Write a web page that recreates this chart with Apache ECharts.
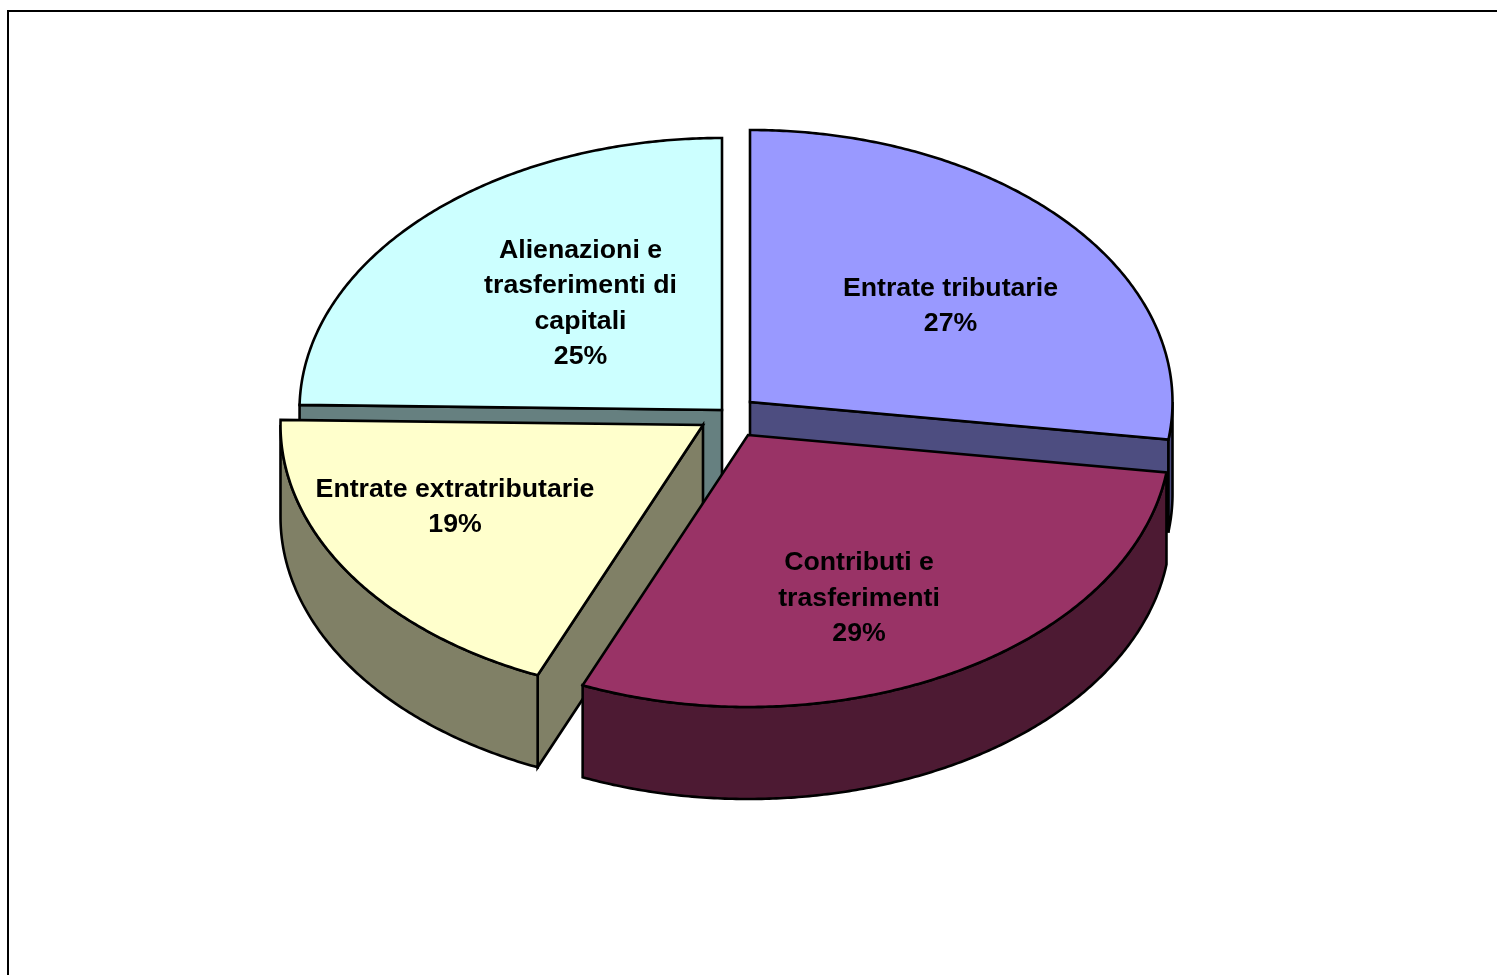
<!DOCTYPE html>
<html><head><meta charset="utf-8">
<style>html,body{margin:0;padding:0;background:#fff}#c{width:1497px;height:975px}</style>
<script src="https://cdn.jsdelivr.net/npm/echarts@6/dist/echarts.min.js"></script>
</head><body><div id="c"></div>
<script>
// Data
const categories = ['Entrate tributarie', 'Contributi e\ntrasferimenti', 'Entrate extratributarie', 'Alienazioni e\ntrasferimenti di\ncapitali'];
const values = [27.2, 29.2, 18.9, 24.7];

// Styling / layout of the exploded 3D pie
const topColors  = ['#9999FF', '#993366', '#FFFFCC', '#CCFFFF'];
const sideColors = ['#4D4D80', '#4D1A33', '#808066', '#668080'];
const apexes = [[750, 402], [748, 435], [703, 425], [722, 410]];
const labelCenters = [[950.5, 306], [859, 598.5], [455, 507], [580.5, 303.5]];
const RX = 422.5, RY = 272, DEPTH = 92;
const drawOrder = [3, 0, 2, 1];
const total = values.reduce((a, b) => a + b, 0);
const startAngles = values.map((_, i) => values.slice(0, i).reduce((a, b) => a + b, 0) / total * 2 * Math.PI);

function rim(apex, t) { return [apex[0] + RX * Math.sin(t), apex[1] - RY * Math.cos(t)]; }
function arc(apex, a, b) {
  const n = Math.max(2, Math.ceil((b - a) * 180 / Math.PI * 2)), pts = [];
  for (let k = 0; k <= n; k++) pts.push(rim(apex, a + (b - a) * k / n));
  return pts;
}
const down = p => [p[0], p[1] + DEPTH];
const edge = (fill) => ({ fill, stroke: '#000', lineWidth: 2.6, lineJoin: 'miter', miterLimit: 4 });

function renderItem(params, api) {
  const i = drawOrder[params.dataIndex];
  const a = startAngles[i], b = a + values[i] / total * 2 * Math.PI, apex = apexes[i];
  const outer = arc(apex, a, b);
  const side = edge(sideColors[i]);
  const poly = (points, style) => ({ type: 'polygon', shape: { points }, style });
  const wall = (p, q) => poly([p, q, down(q), down(p)], side);
  const children = [];
  // Only the faces turned toward the viewer are drawn.
  if (Math.sin(a) < -1e-6) children.push(wall(apex, outer[0]));
  if (Math.sin(b) > 1e-6) children.push(wall(apex, outer[outer.length - 1]));
  const from = Math.max(a, Math.PI / 2), to = Math.min(b, 3 * Math.PI / 2);
  if (to > from) {
    const front = arc(apex, from, to);
    children.push(poly(front.concat(front.map(down).reverse()), side));
  }
  children.push(poly([apex].concat(outer), edge(topColors[i])));
  return { type: 'group', children };
}

function renderLabel(params, api) {
  const i = params.dataIndex, c = labelCenters[i];
  return { type: 'text', x: c[0], y: c[1], style: {
    text: categories[i] + '\n' + Math.round(values[i]) + '%',
    fill: '#000', align: 'center', verticalAlign: 'middle',
    font: 'bold 26.7px "Liberation Sans", Arial, sans-serif', lineHeight: 35.5
  }};
}

const chart = echarts.init(document.getElementById('c'), null, { renderer: 'canvas' });
chart.setOption({
  animation: false,
  backgroundColor: '#fff',
  graphic: [{ type: 'rect', silent: true, shape: { x: 8, y: 11, width: 1700, height: 1200 },
              style: { fill: 'transparent', stroke: '#000', lineWidth: 2 } }],
  series: [
    { type: 'custom', coordinateSystem: 'none', silent: true, z: 2, renderItem,
      data: drawOrder.map(i => ({ name: categories[i], value: values[i] })) },
    { type: 'custom', coordinateSystem: 'none', silent: true, z: 3, renderItem: renderLabel,
      data: categories.map((name, i) => ({ name, value: values[i] })) }
  ]
});
</script></body></html>
